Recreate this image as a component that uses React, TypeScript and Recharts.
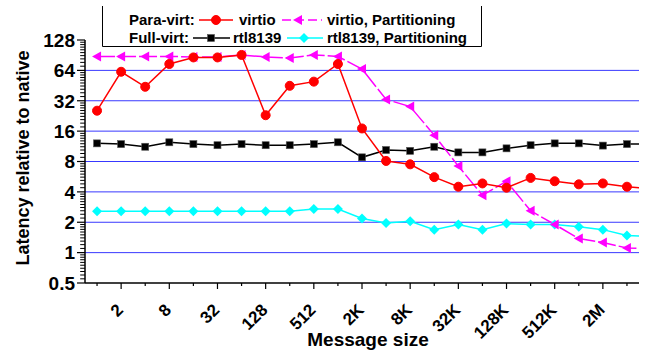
import { LineChart, Line, XAxis, YAxis, ReferenceLine } from "recharts";

const FONT = '"Liberation Sans", Arial, sans-serif';

// message sizes 1 B .. 8 MB (the 8M point is clipped at the right edge)
const sizes = [
  "1", "2", "4", "8", "16", "32", "64", "128", "256", "512", "1K", "2K",
  "4K", "8K", "16K", "32K", "64K", "128K", "256K", "512K", "1M", "2M", "4M", "8M",
];
const virtio = [
  25.5, 62, 44, 74, 86, 86, 91, 23, 45, 49.5, 74, 17, 8.1, 7.5, 5.6, 4.5,
  4.85, 4.4, 5.5, 5.1, 4.75, 4.85, 4.5, 4.3,
];
const virtioPart = [
  88, 88, 88, 88, 87, 87, 91, 87, 85, 91, 88, 66, 33, 28, 14.6, 7.2, 3.7,
  5.1, 2.6, 1.9, 1.38, 1.26, 1.11, 1.1,
];
const rtl8139 = [
  12.1, 11.9, 11.2, 12.4, 11.9, 11.6, 11.9, 11.6, 11.6, 11.9, 12.4, 8.8,
  10.4, 10.2, 11.2, 9.85, 9.85, 10.8, 11.6, 12.1, 12.1, 11.5, 11.9, 11.9,
];
const rtl8139Part = [
  2.57, 2.57, 2.57, 2.57, 2.57, 2.57, 2.57, 2.57, 2.57, 2.71, 2.71, 2.18,
  1.97, 2.05, 1.69, 1.9, 1.69, 1.94, 1.9, 1.9, 1.8, 1.69, 1.48, 1.45,
];

const yMajor = [0.5, 1, 2, 4, 8, 16, 32, 64, 128];
const gridValues = [1, 2, 4, 8, 16, 32, 64];
const yMinor = yMajor
  .slice(0, -1)
  .flatMap((b) => [1, 2, 3, 4, 5, 6, 7, 8, 9].map((k) => b * (1 + k / 10)));
const xTicks = sizes.slice(0, 23).map((_, i) => i);
const X_MIN = -0.5;
const MINOR_LEN = 0.2; // x units, one category is ~24px

const rows = sizes.map((s, i) => ({
  idx: i,
  size: s,
  virtio: virtio[i],
  virtioPart: virtioPart[i],
  rtl8139: rtl8139[i],
  rtl8139Part: rtl8139Part[i],
}));

const RED = "#ff0000";
const MAG = "#ff00ff";
const CYAN = "#00ffff";

const circle = (cx: number, cy: number) => (
  <circle cx={cx} cy={cy} r={4.5} fill={RED} stroke={RED} />
);
const triLeft = (cx: number, cy: number) => (
  <polygon
    points={`${cx - 5},${cy} ${cx + 4},${cy - 5} ${cx + 4},${cy + 5}`}
    fill={MAG}
  />
);
const square = (cx: number, cy: number) => (
  <rect x={cx - 3.5} y={cy - 3.5} width={7} height={7} fill="#000" stroke="#555" strokeWidth={0.6} />
);
const diamond = (cx: number, cy: number) => (
  <polygon
    points={`${cx},${cy - 5} ${cx + 5},${cy} ${cx},${cy + 5} ${cx - 5},${cy}`}
    fill={CYAN}
  />
);

const dotOf =
  (shape: (cx: number, cy: number) => JSX.Element) =>
  (p: { cx?: number; cy?: number; index?: number }) => {
    if (p.cx == null || p.cy == null) return <g key={p.index} />;
    return <g key={p.index}>{shape(p.cx, p.cy)}</g>;
  };

function XTick(props: any) {
  const { x, y, payload } = props;
  const i = payload.value as number;
  const major = i % 2 === 1;
  const ax = x + 3;
  const ay = y + 28;
  return (
    <g>
      <line x1={x} x2={x} y1={y} y2={y + (major ? 6 : 3)} stroke="#000" strokeWidth={1.2} />
      {major && (
        <text
          x={ax}
          y={ay}
          transform={`rotate(-45 ${ax} ${ay})`}
          textAnchor="end"
          fontSize={17}
          fontWeight="bold"
          fontFamily={FONT}
          fill="#000"
        >
          {sizes[i]}
        </text>
      )}
    </g>
  );
}

function YTick(props: any) {
  const { x, y, payload } = props;
  const v = payload.value as number;
  return (
    <g>
      <line x1={x - 8} x2={x} y1={y} y2={y} stroke="#000" strokeWidth={1.2} />
      <text
        x={x - 10}
        y={y}
        dy="0.36em"
        textAnchor="end"
        fontSize={19}
        fontWeight="bold"
        fontFamily={FONT}
        fill="#000"
      >
        {String(v)}
      </text>
    </g>
  );
}

function Overlay() {
  const t = { fontSize: 15, fontWeight: "bold" as const, fontFamily: FONT, fill: "#000" };
  return (
    <svg
      width={648}
      height={354}
      style={{ position: "absolute", left: 0, top: 0, pointerEvents: "none" }}
    >
      {/* legend frame: left, bottom, right */}
      <path d="M102.5,6 V46.5 H481.5 V6" fill="none" stroke="#000" strokeWidth={1} />
      <text x={129} y={25} {...t}>Para-virt:</text>
      <line x1={199} x2={233} y1={20} y2={20} stroke={RED} strokeWidth={1.5} />
      {circle(216, 20)}
      <text x={239} y={25} {...t}>virtio</text>
      <line x1={282} x2={322} y1={20} y2={20} stroke={MAG} strokeWidth={1.5} strokeDasharray="9 4" />
      {triLeft(298, 20)}
      <text x={327} y={25} {...t}>virtio, Partitioning</text>

      <text x={129} y={43} {...t}>Full-virt:</text>
      <line x1={193} x2={230} y1={38} y2={38} stroke="#000" strokeWidth={1.5} />
      {square(211, 38)}
      <text x={233} y={43} {...t}>rtl8139</text>
      <line x1={287} x2={323} y1={38} y2={38} stroke={CYAN} strokeWidth={1.5} />
      {diamond(304, 38)}
      <text x={327} y={43} {...t}>rtl8139, Partitioning</text>

      <text
        x={28.5}
        y={158}
        transform="rotate(-90 28.5 158)"
        textAnchor="middle"
        fontSize={18}
        fontWeight="bold"
        fontFamily={FONT}
      >
        Latency relative to native
      </text>
      <text x={368} y={346} textAnchor="middle" fontSize={19} fontWeight="bold" fontFamily={FONT}>
        Message size
      </text>
    </svg>
  );
}

export default function App() {
  return (
    <div style={{ position: "absolute", left: 0, top: 0, width: 648, height: 354, background: "#fff" }}>
      <LineChart
        width={648}
        height={354}
        data={rows}
        margin={{ top: 40, right: 9, bottom: 0, left: 0 }}
      >
        <XAxis
          dataKey="idx"
          type="number"
          domain={[X_MIN, 22.5]}
          allowDataOverflow
          ticks={xTicks}
          interval={0}
          tick={<XTick />}
          tickLine={false}
          tickSize={0}
          tickMargin={0}
          height={71}
          axisLine={{ stroke: "#000", strokeWidth: 1.5 }}
        />
        <YAxis
          scale="log"
          domain={[0.5, 128]}
          allowDataOverflow
          ticks={yMajor}
          interval={0}
          tick={<YTick />}
          tickLine={false}
          tickSize={0}
          tickMargin={0}
          width={85}
          axisLine={{ stroke: "#000", strokeWidth: 1.5 }}
        />
        {/* minor log ticks, left of the y axis */}
        {yMinor.map((v) => (
          <ReferenceLine
            key={`m-${v}`}
            segment={[
              { x: X_MIN - MINOR_LEN, y: v },
              { x: X_MIN, y: v },
            ]}
            ifOverflow="visible"
            stroke="#000"
            strokeWidth={1}
          />
        ))}
        {gridValues.map((v) => (
          <ReferenceLine key={v} y={v} stroke="#3838ff" strokeWidth={1} />
        ))}
        <Line
          dataKey="rtl8139"
          stroke="#000"
          strokeWidth={1.5}
          dot={dotOf(square)}
          activeDot={false}
          isAnimationActive={false}
        />
        <Line
          dataKey="rtl8139Part"
          stroke={CYAN}
          strokeWidth={1.5}
          dot={dotOf(diamond)}
          activeDot={false}
          isAnimationActive={false}
        />
        <Line
          dataKey="virtioPart"
          stroke={MAG}
          strokeWidth={1.5}
          strokeDasharray="18 3"
          dot={dotOf(triLeft)}
          activeDot={false}
          isAnimationActive={false}
        />
        <Line
          dataKey="virtio"
          stroke={RED}
          strokeWidth={1.5}
          dot={dotOf(circle)}
          activeDot={false}
          isAnimationActive={false}
        />
      </LineChart>
      <Overlay />
    </div>
  );
}
